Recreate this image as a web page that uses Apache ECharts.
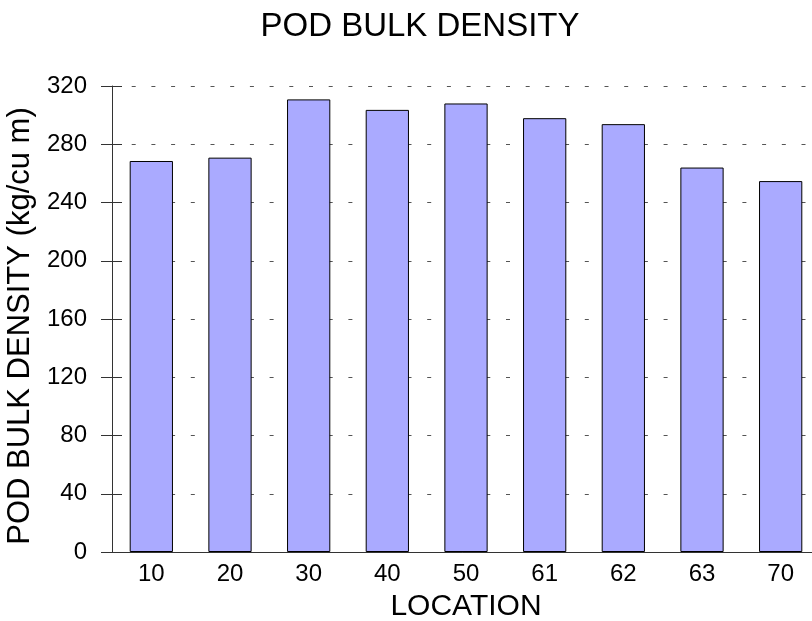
<!DOCTYPE html>
<html>
<head>
<meta charset="utf-8">
<script src="https://cdn.jsdelivr.net/npm/echarts@6/dist/echarts.min.js"></script>
<style>html,body{margin:0;padding:0;background:#fff;overflow:hidden;}#c{width:812px;height:621px;}</style>
</head>
<body>
<div id="c"></div>
<script>
const titleText = 'POD BULK DENSITY';
const xName = 'LOCATION';
const yName = 'POD BULK DENSITY (kg/cu m)';
const categories = ['10', '20', '30', '40', '50', '61', '62', '63', '70'];
const bulkDensity = [268.5, 270.8, 310.8, 303.6, 308, 297.9, 293.8, 264, 254.7];
const yMin = 0, yMax = 320, yStep = 40;

const font = 'Liberation Sans, Arial, sans-serif';
const chart = echarts.init(document.getElementById('c'), null, {renderer: 'canvas'});
chart.setOption({
  animation: false,
  backgroundColor: '#fff',
  title: {
    text: titleText, left: 415, top: 5, textAlign: 'center',
    textStyle: {fontFamily: font, fontSize: 33, fontWeight: 'normal', color: '#000'}
  },
  grid: {left: 112, top: 86, width: 708, height: 466, containLabel: false, outerBoundsMode: 'none'},
  xAxis: [{
    type: 'category', data: categories, position: 'bottom',
    axisLine: {show: true, lineStyle: {color: '#333', width: 1}},
    axisTick: {show: false},
    axisLabel: {fontFamily: font, fontSize: 24, color: '#000', margin: 10},
    name: xName, nameLocation: 'middle', nameGap: 40,
    nameTextStyle: {fontFamily: font, fontSize: 30, color: '#000', verticalAlign: 'top'}
  }, {
    type: 'category', data: categories, position: 'top',
    axisLine: {show: true, lineStyle: {color: '#333', width: 1}},
    axisTick: {show: false}, axisLabel: {show: false}
  }],
  yAxis: [{
    type: 'value', min: yMin, max: yMax, interval: yStep, position: 'left',
    axisLine: {show: true, lineStyle: {color: '#333', width: 1}},
    axisTick: {show: true, inside: false, length: 11, lineStyle: {color: '#333'}},
    axisLabel: {fontFamily: font, fontSize: 24, color: '#000', margin: 25},
    splitLine: {show: true, lineStyle: {color: '#555', width: 1, type: [4, 15.7]}},
    name: yName, nameLocation: 'middle', nameGap: 74, nameRotate: 90,
    nameTextStyle: {fontFamily: font, fontSize: 31, color: '#000', padding: [0, 14, 0, 0]}
  }, {
    type: 'value', min: yMin, max: yMax, interval: yStep, position: 'left',
    axisLine: {show: false},
    axisTick: {show: true, inside: true, length: 10, lineStyle: {color: '#333'}},
    axisLabel: {show: false}, splitLine: {show: false}
  }],
  series: [{
    type: 'bar', data: bulkDensity, barWidth: '55%', xAxisIndex: 0, yAxisIndex: 0,
    itemStyle: {color: '#AAAAFF', borderColor: '#000', borderWidth: 1}
  }]
});
</script>
</body>
</html>
